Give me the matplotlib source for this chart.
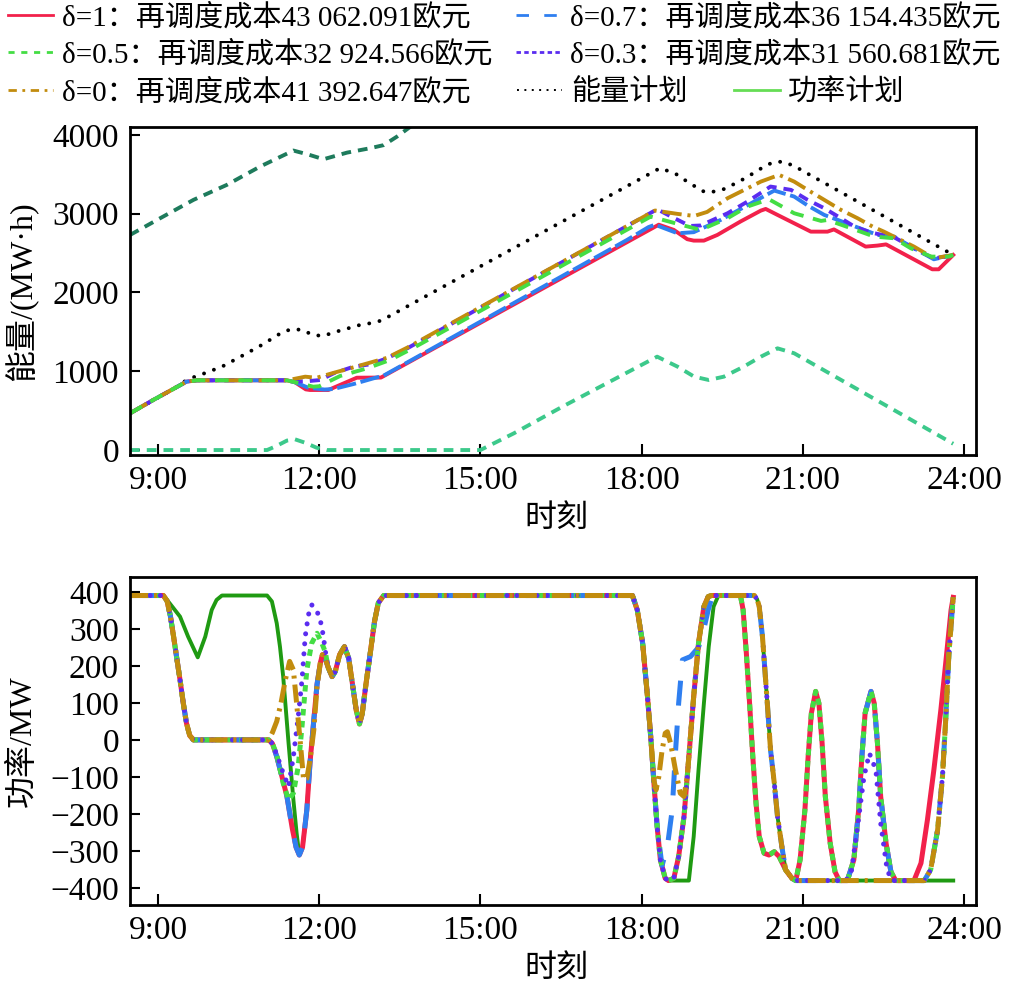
import matplotlib.pyplot as plt
from matplotlib.lines import Line2D
from matplotlib.font_manager import FontProperties

plt.rcParams['font.family'] = ['Liberation Serif', 'Noto Sans CJK SC', 'DejaVu Sans']
plt.rcParams['axes.unicode_minus'] = True

# ---------------- energy (top) ----------------
E_plan_t = [8.48, 9.3, 9.56, 9.78, 10.19, 10.56, 10.93, 11.31, 11.49, 11.69, 11.88, 12.08, 12.27, 12.48,
            12.7, 12.88, 13.1, 13.29, 18.34, 18.62, 18.8, 18.98, 19.16, 19.25, 19.5, 19.69, 19.87, 20.06,
            20.25, 20.43, 20.62, 20.84, 21.02, 23.8]
E_plan = [466, 780, 900, 952, 1058, 1194, 1333, 1494, 1536, 1524, 1460, 1448, 1494, 1532,
          1579, 1600, 1630, 1693, 3577, 3513, 3429, 3352, 3280, 3268, 3302, 3365, 3429, 3505,
          3585, 3648, 3661, 3606, 3535, 2476]

E_up_t = [8.48, 9.04, 9.66, 10.28, 10.9, 11.52, 11.8, 12.08, 12.52, 12.95, 13.2, 13.45, 13.7, 14.5]
E_up = [2730, 2942, 3175, 3365, 3598, 3801, 3750, 3691, 3775, 3831, 3870, 3979, 4105, 4400]

E_lo_t = [8.48, 11.03, 11.2, 11.4, 11.55, 11.75, 11.95, 12.14, 15.0, 15.62, 16.55, 18.29, 18.67, 18.98,
          19.25, 19.53, 19.9, 20.22, 20.53, 20.84, 23.8]
E_lo = [0, 0, 50, 120, 136, 90, 30, 0, 0, 211, 559, 1185, 1058, 931,
        889, 931, 1058, 1185, 1291, 1228, 80]

E_start_t = [8.48, 8.91, 9.3, 9.53, 9.72, 11.4]
E_start = [466, 635, 781, 868, 885, 885]

E_d1_t = [11.55, 11.75, 11.83, 12.17, 12.7, 13.15, 18.32, 18.6, 18.85, 18.97, 19.16, 19.41, 19.84, 20.22,
          20.31, 20.53, 20.84, 21.15, 21.46, 21.58, 22.17, 22.39, 22.55, 23.41, 23.53, 23.8]
E_d1 = [860, 770, 762, 762, 918, 920, 2860, 2794, 2676, 2658, 2658, 2730, 2900, 3039,
        3060, 2984, 2878, 2772, 2772, 2800, 2582, 2595, 2610, 2294, 2294, 2476]

E_d07_t = [11.55, 11.8, 12.1, 12.27, 12.64, 13.01, 13.2, 17.73, 18.13, 18.25, 18.67, 18.97, 19.47, 20.47,
           20.84, 21.1, 21.4, 21.65, 22.39, 22.7, 23.07, 23.44, 23.8]
E_d07 = [860, 790, 768, 775, 838, 910, 945, 2667, 2830, 2860, 2751, 2765, 2920, 3293,
         3217, 3100, 2984, 2921, 2730, 2709, 2561, 2421, 2476]

E_d05_t = [11.55, 11.89, 12.0, 12.39, 12.89, 13.32, 13.75, 18.17, 18.63, 19.1, 19.6, 19.97, 20.37, 20.84,
           21.34, 21.46, 21.9, 22.33, 22.7, 23.01, 23.39, 23.72, 23.8]
E_d05 = [860, 804, 810, 940, 1037, 1143, 1295, 2963, 2878, 2794, 2942, 3090, 3183, 3005,
         2908, 2920, 2815, 2709, 2688, 2561, 2455, 2455, 2476]

E_d03_t = [11.55, 11.8, 12.02, 12.27, 12.64, 12.95, 13.26, 13.64, 18.29, 18.6, 18.9, 19.1, 19.6, 19.97,
           20.4, 20.78, 21.09, 21.4, 21.71, 21.96, 22.27, 22.7, 23.07, 23.44, 23.8]
E_d03 = [870, 875, 889, 974, 1058, 1088, 1164, 1291, 3056, 2946, 2844, 2850, 3005, 3153,
         3344, 3302, 3175, 3069, 2942, 2836, 2760, 2700, 2560, 2430, 2476]

E_d0_t = [11.55, 11.74, 11.95, 12.27, 12.64, 13.26, 13.64, 18.25, 18.67, 18.98, 19.22, 19.6, 20.22, 20.56,
          20.84, 21.09, 21.4, 21.71, 22.02, 22.3, 22.51, 23.07, 23.44, 23.8]
E_d0 = [905, 931, 917, 980, 1050, 1170, 1300, 3040, 2997, 2971, 3022, 3196, 3407, 3492,
        3407, 3302, 3175, 3048, 2942, 2836, 2772, 2582, 2434, 2476]

# ---------------- power (bottom) ----------------
P_start_t = [8.48, 9.1, 9.17, 9.23, 9.29, 9.35, 9.41, 9.47, 9.53, 9.59, 9.66, 11.06]
P_start = [390, 390, 375, 335, 279, 220, 162, 100, 45, 12, 0, 0]

P_red_a_t = [11.13, 11.21, 11.3, 11.4, 11.5, 11.57, 11.63, 11.69, 11.77, 11.83, 11.9, 11.96, 12.02, 12.06, 12.1]
P_red_a = [-10, -45, -95, -153, -240, -290, -311, -290, -189, -60, 54, 150, 207, 230, 225]

P_gd_a_t = [11.13, 11.21, 11.33, 11.43, 11.52, 11.61, 11.68, 11.77, 11.86, 11.96, 12.05, 12.11]
P_gd_a = [-10, -40, -117, -162, -144, -72, 36, 189, 261, 288, 261, 239]

P_pu_a_t = [11.13, 11.21, 11.33, 11.43, 11.52, 11.61, 11.68, 11.74, 11.8, 11.86, 11.96, 12.02, 12.08, 12.11]
P_pu_a = [-10, -40, -90, -126, -45, 63, 162, 279, 338, 365, 347, 324, 279, 243]

P_go_a_t = [11.13, 11.21, 11.29, 11.37, 11.45, 11.52, 11.58, 11.65, 11.71, 11.77, 11.83, 11.9, 11.96, 12.02, 12.06, 12.1]
P_go_a = [20, 50, 100, 162, 212, 189, 99, -9, -108, -104, -54, 27, 144, 207, 230, 225]

P_mid_t = [12.17, 12.24, 12.3, 12.38, 12.47, 12.55, 12.62, 12.69, 12.75, 12.8, 12.87, 12.95, 13.03, 13.1,
           13.2, 17.83, 17.92, 18.02, 18.11, 18.17]
P_mid = [195, 171, 185, 230, 252, 220, 150, 80, 43, 70, 150, 234, 320, 370,
         390, 390, 351, 261, 117, 9]

P_grp_b_t = [18.23, 18.29, 18.35, 18.44, 18.5, 18.6, 18.69, 18.79, 18.88, 18.97, 19.06, 19.16, 19.24, 19.3]
P_grp_b = [-117, -234, -324, -374, -380, -374, -315, -207, -45, 117, 261, 360, 387, 390]

P_blue_b_t = [18.23, 18.29, 18.38, 18.48, 18.57, 18.63, 18.69, 18.76, 18.91, 19.06, 19.16, 19.24, 19.32]
P_blue_b = [-117, -234, -340, -288, -189, -36, 99, 216, 225, 250, 300, 351, 390]

P_go_b_t = [18.23, 18.27, 18.32, 18.38, 18.44, 18.48, 18.54, 18.63, 18.72, 18.79, 18.85, 18.91, 18.97,
            19.06, 19.16, 19.24, 19.3]
P_go_b = [-110, -135, -100, -30, 18, 22, -9, -81, -144, -153, -99, 9, 117,
          261, 360, 387, 390]

P_rg_c_t = [19.84, 19.89, 19.95, 20.01, 20.07, 20.13, 20.19, 20.28, 20.37, 20.47, 20.56, 20.68, 20.8, 20.87]
P_rg_c = [390, 351, 234, 99, -45, -171, -261, -306, -311, -302, -315, -351, -374, -380]

P_gpb_c_t = [20.1, 20.15, 20.19, 20.25, 20.34, 20.4, 20.47, 20.53, 20.62, 20.68, 20.8, 20.87]
P_gpb_c = [390, 380, 360, 279, 99, -27, -117, -207, -297, -351, -374, -380]

P_pk1_t = [20.95, 21.04, 21.1, 21.16, 21.24, 21.3, 21.36, 21.42, 21.51, 21.6, 21.68]
P_pk1 = [-324, -189, -45, 72, 131, 99, -9, -153, -279, -356, -380]

P_pk2_t = [21.83, 21.95, 22.04, 22.1, 22.16, 22.27, 22.33, 22.39, 22.45, 22.55, 22.64, 22.73]
P_pk2 = [-380, -324, -189, -45, 72, 131, 99, -9, -153, -279, -356, -380]

P_pu_pk2_t = [21.8, 21.9, 22.02, 22.14, 22.24, 22.36, 22.45, 22.57, 22.66]
P_pu_pk2 = [-380, -360, -234, -99, -36, -81, -225, -351, -380]

P_red_e_t = [23.07, 23.2, 23.32, 23.44, 23.57, 23.66, 23.76, 23.8]
P_red_e = [-380, -333, -216, -81, 81, 207, 351, 385]

P_oth_e_t = [23.26, 23.38, 23.51, 23.6, 23.66, 23.72, 23.8]
P_oth_e = [-380, -351, -243, -99, 54, 234, 385]

P_plan_a_t = [8.48, 9.1, 9.19, 9.41, 9.56, 9.74, 9.88, 10.0, 10.09, 10.19, 11.03, 11.12, 11.21, 11.27,
              11.33, 11.43, 11.52, 11.58, 11.63, 11.69, 11.77, 11.83, 11.9, 11.96, 12.02, 12.06, 12.1]
P_plan_a = [390, 390, 374, 333, 279, 223, 279, 351, 378, 390, 390, 374, 315, 252,
            171, -9, -162, -252, -311, -290, -189, -60, 54, 150, 207, 230, 225]
P_plan_b_t = [18.23, 18.29, 18.35, 18.44, 18.5, 18.88, 18.97, 19.06, 19.16, 19.25, 19.34, 19.43]
P_plan_b = [-117, -234, -324, -374, -380, -380, -261, -81, 99, 252, 360, 390]
P_plan_end_t = [23.8]
P_plan_end = [-380]

labels = ['δ=1：再调度成本43 062.091欧元', 'δ=0.7：再调度成本36 154.435欧元',
          'δ=0.5：再调度成本32 924.566欧元', 'δ=0.3：再调度成本31 560.681欧元',
          'δ=0：再调度成本41 392.647欧元', '能量计划', '功率计划']
xticks = [9, 12, 15, 18, 21, 24]
xticklabels = ['9:00', '12:00', '15:00', '18:00', '21:00', '24:00']

c_red, c_blue, c_green, c_purple, c_gold = '#f2214b', '#2f7ff0', '#44dd44', '#5a2cf0', '#c28c0e'
c_plan_g = '#1f9a12'

fig = plt.figure(figsize=(10.15, 9.9), dpi=100)
W, H = 1015, 990
ax1 = fig.add_axes([130 / W, 1 - 455 / H, 846 / W, 328 / H])
ax2 = fig.add_axes([130 / W, 1 - 905 / H, 846 / W, 328 / H])

# top plot
lw1 = 2.8
ax1.plot(E_up_t, E_up, color='#1e7b5c', lw=lw1, dashes=(2.5, 1.8))
ax1.plot(E_lo_t, E_lo, color='#3cc98b', lw=lw1, dashes=(2.5, 1.8))
ax1.plot(E_plan_t, E_plan, color='black', lw=lw1, dashes=(0.01, 2.7), dash_capstyle='round')
ax1.plot(E_start_t + E_d1_t, E_start + E_d1, color=c_red, lw=lw1)
ax1.plot(E_start_t + E_d07_t, E_start + E_d07, color=c_blue, lw=lw1, dashes=(5, 1.2))
ax1.plot(E_start_t + E_d03_t, E_start + E_d03, color=c_purple, lw=lw1, dashes=(2.6, 1.8))
ax1.plot(E_start_t + E_d0_t, E_start + E_d0, color=c_gold, lw=lw1, dashes=(5, 1.5, 0.8, 1.5))
ax1.plot(E_start_t + E_d05_t, E_start + E_d05, color=c_green, lw=lw1, dashes=(3.5, 2.5))

# bottom plot
lw2 = 3.6
ax2.plot(P_plan_a_t + P_mid_t + P_plan_b_t + P_gpb_c_t + P_plan_end_t,
         P_plan_a + P_mid + P_plan_b + P_gpb_c + P_plan_end, color=c_plan_g, lw=2.8)
ax2.plot(P_start_t + P_red_a_t + P_mid_t + P_grp_b_t + P_rg_c_t + P_pk1_t + P_pk2_t + P_red_e_t,
         P_start + P_red_a + P_mid + P_grp_b + P_rg_c + P_pk1 + P_pk2 + P_red_e, color=c_red, lw=lw2)
ax2.plot(P_start_t + P_red_a_t + P_mid_t + P_blue_b_t + P_gpb_c_t + P_pk2_t + P_oth_e_t,
         P_start + P_red_a + P_mid + P_blue_b + P_gpb_c + P_pk2 + P_oth_e, color=c_blue, lw=lw2,
         dashes=(5, 4))
ax2.plot(P_start_t + P_gd_a_t + P_mid_t + P_grp_b_t + P_rg_c_t + P_pk1_t + P_pk2_t + P_oth_e_t,
         P_start + P_gd_a + P_mid + P_grp_b + P_rg_c + P_pk1 + P_pk2 + P_oth_e, color=c_green, lw=lw2,
         dashes=(1.3, 1.1))
ax2.plot(P_start_t + P_pu_a_t + P_mid_t + P_grp_b_t + P_gpb_c_t + P_pu_pk2_t + P_oth_e_t,
         P_start + P_pu_a + P_mid + P_grp_b + P_gpb_c + P_pu_pk2 + P_oth_e, color=c_purple, lw=lw2,
         dashes=(0.01, 2.0), dash_capstyle='round')
ax2.plot(P_start_t + P_go_a_t + P_mid_t + P_go_b_t + P_gpb_c_t + P_oth_e_t,
         P_start + P_go_a + P_mid + P_go_b + P_gpb_c + P_oth_e, color=c_gold, lw=lw2,
         dashes=(3.6, 1.2, 0.6, 1.2))

for ax in (ax1, ax2):
    ax.set_xlim(8.479, 24.224)
    ax.set_xticks(xticks)
    ax.set_xticklabels(xticklabels)
    ax.tick_params(axis='x', direction='in', length=8, width=1.5, labelsize=24, pad=7.5)
    ax.tick_params(axis='y', direction='in', length=7, width=1.5, labelsize=24, pad=8)
    for s in ax.spines.values():
        s.set_linewidth(2)
    ax.set_xlabel('时刻', fontsize=23)

ax1.set_ylim(-63, 4100)
ax1.set_yticks([0, 1000, 2000, 3000, 4000])
ax2.set_ylim(-446, 440)
ax2.set_yticks([400, 300, 200, 100, 0, -100, -200, -300, -400])

ax1.set_ylabel('能量/(MW·h)', fontsize=23)
ax2.set_ylabel('功率/MW', fontsize=23)
ax1.yaxis.set_label_coords(38 / W, 1 - 291 / H, transform=fig.transFigure)
ax2.yaxis.set_label_coords(38 / W, 1 - 741 / H, transform=fig.transFigure)
ax1.xaxis.set_label_coords(556 / W, 1 - 505 / H, transform=fig.transFigure)
ax2.xaxis.set_label_coords(556 / W, 1 - 955 / H, transform=fig.transFigure)

# legend (proxy handles with legend styles)
lp = FontProperties(family=['Liberation Serif', 'Noto Sans CJK SC', 'DejaVu Sans'], size=21)
lh = [Line2D([], [], color=c_red, lw=2),
      Line2D([], [], color=c_blue, lw=2, dashes=(4.5, 5.5)),
      Line2D([], [], color=c_green, lw=2, dashes=(2.2, 2.4)),
      Line2D([], [], color=c_purple, lw=2, dashes=(1.6, 1.2)),
      Line2D([], [], color=c_gold, lw=2, dashes=(3, 2, 1, 2)),
      Line2D([], [], color='black', lw=1.4, dashes=(1, 2.8)),
      Line2D([], [], color='#66dd55', lw=2)]
common = dict(loc='upper left', frameon=False, prop=lp, handlelength=1.55, handletextpad=0.3,
              labelspacing=0.32, borderpad=0, borderaxespad=0)
fig.legend([lh[0], lh[2], lh[1], lh[3]], [labels[0], labels[2], labels[1], labels[3]], ncol=2,
           columnspacing=0.8, bbox_to_anchor=(8 / W, 1 - 4 / H), **common)
fig.legend([lh[4], lh[5], lh[6]], [labels[4], labels[5], labels[6]], ncol=3,
           columnspacing=1.6, bbox_to_anchor=(8 / W, 1 - 79 / H), **common)

fig.savefig('out.png', dpi=100)
